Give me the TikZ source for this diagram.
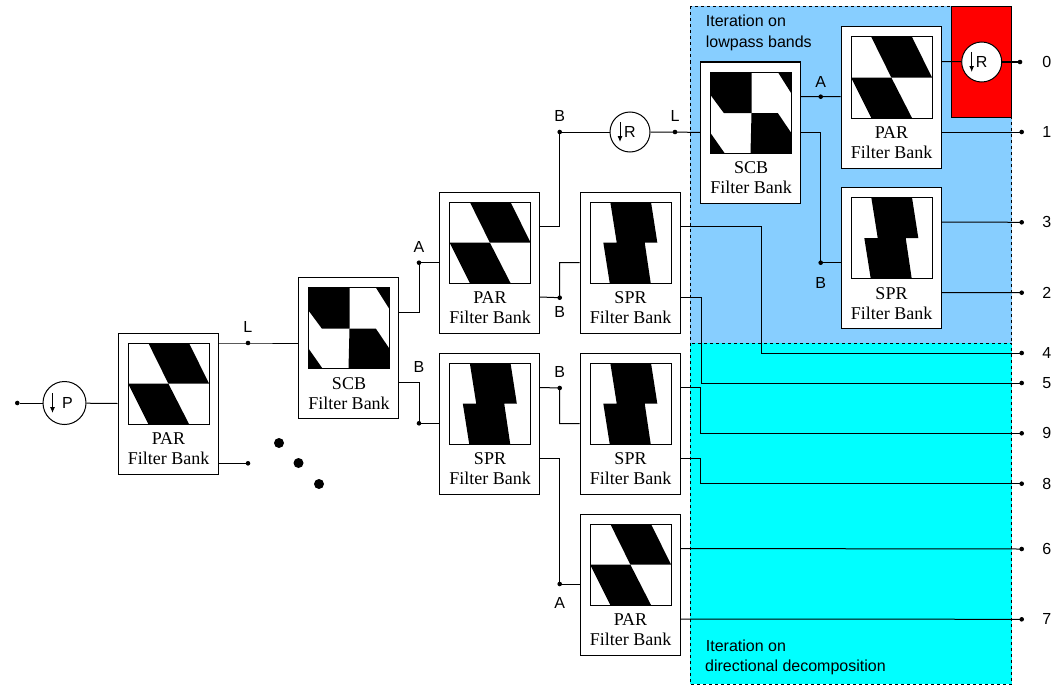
\documentclass[tikz,border=0pt]{standalone}
\usepackage{xcolor}
\usepackage{fontspec}
\setmainfont{Liberation Serif}
\setsansfont{Liberation Sans}
\usetikzlibrary{calc, arrows.meta}

\definecolor{lowblue}{RGB}{135,206,255}
\definecolor{dirblue}{RGB}{0,255,255}

\tikzset{
    bankbox/.style={draw, fill=white, line width=1pt, minimum width=100pt, minimum height=141pt, inner sep=0pt},
    banktext/.style={align=center, inner sep=0pt, font=\fontsize{18}{20}\selectfont},
    portdot/.style={circle, fill=black, minimum size=4.6pt, inner sep=0pt},
    bigdot/.style={circle, fill=black, minimum size=10pt, inner sep=0pt},
    portlabel/.style={inner sep=0pt, font=\sffamily\fontsize{16}{19}\selectfont},
    noteline/.style={anchor=base west, inner sep=0pt, font=\sffamily\fontsize{16}{19}\selectfont},
    downbox/.style={draw, fill=white, circle, line width=1pt, minimum size=40pt, inner sep=0pt, font=\sffamily\fontsize{16}{19}\selectfont},
    wire/.style={line width=1pt},
}

% passband pictures, 81 units wide
\newcommand{\parimage}{%
    \fill (20.3,0) -- (61,0) -- (81,40.5) -- (40.3,40.5) -- cycle;
    \fill (0,40.5) -- (40.3,40.5) -- (61,81) -- (20.3,81) -- cycle;
}
\newcommand{\sprimage}{%
    \fill (20.3,0) -- (61,0) -- (67.3,40.5) -- (54.7,40.5) -- (60.7,81) -- (19.7,81) -- (13.3,40.5) -- (26.7,40.5) -- cycle;
}
\newcommand{\scbimage}{%
    \fill (0,0) -- (41,0) -- (41,41) -- (13.3,41) -- (0,23) -- cycle;
    \fill (67.3,0) -- (81,0) -- (81,21.7) -- cycle;
    \fill (41,41) -- (67.3,41) -- (81,61.3) -- (81,81) -- (40,81) -- cycle;
    \fill (0,61) -- (14,81) -- (0,81) -- cycle;
}
% name, left, top, title, picture
\newcommand{\filterbank}[5]{%
    \node[bankbox] (#1) at (#2+50,#3+70.5) {};
    \begin{scope}[shift={(#2+10,#3+10)}]
        #5
        \draw[line width=1pt] (0,0) rectangle (81,81);
    \end{scope}
    \node[banktext] (#1text) at (#2+50.5,#3+116) {#4\\Filter Bank};
    \coordinate (#1hi) at ($(#1.north east)+(0,35)$);
    \coordinate (#1lo) at ($(#1.north east)+(0,105.5)$);
}

\begin{document}
\begin{tikzpicture}[x=1pt, y=-1pt]
    \useasboundingbox (0,0) rectangle (1051,685);

    % shaded regions
    \draw[dashed, line width=0.8pt, fill=lowblue] (690,6.5) rectangle (1011.5,343);
    \draw[dashed, line width=0.8pt, fill=dirblue] (690,343) rectangle (1011.5,684);
    \draw[line width=0.8pt, fill=red] (951.5,6.5) rectangle (1011.5,117);
    \node[noteline] (lowone) at (705.7,27) {Iteration on};
    \node[noteline] (lowtwo) at (705.7,47.7) {lowpass bands};
    \node[noteline] (dirone) at (705.7,651) {Iteration on};
    \node[noteline] (dirtwo) at (705,671.7) {directional decomposition};

    % filter banks
    \filterbank{parone}{118}{333}{PAR}{\parimage}
    \filterbank{scbone}{298.5}{277.5}{SCB}{\scbimage}
    \filterbank{partwo}{439.5}{192}{PAR}{\parimage}
    \filterbank{sprone}{580}{192}{SPR}{\sprimage}
    \filterbank{sprtwo}{439.5}{353}{SPR}{\sprimage}
    \filterbank{sprthree}{580}{353}{SPR}{\sprimage}
    \filterbank{parthree}{580}{514}{PAR}{\parimage}
    \filterbank{scbtop}{700.5}{62}{SCB}{\scbimage}
    \filterbank{partop}{841}{27}{PAR}{\parimage}
    \filterbank{sprtop}{841}{187.5}{SPR}{\sprimage}

    % downsampling circles
    \node[downbox, minimum size=43pt] (pdown) at (64.5,403) {\kern6pt P};
    \node[downbox] (rdown) at (630,132) {R};
    \node[downbox] (rtop) at (981.7,62) {R};

    % junction dots
    \node[portdot] (indot) at (17.3,403) {};
    \node[portdot] (ldot) at (248,343) {};
    \node[portdot] (pardot) at (248,463.3) {};
    \node[portdot] (adot) at (419,262.7) {};
    \node[portdot] (bdot) at (419,423.3) {};
    \node[portdot] (rbdot) at (559.7,132) {};
    \node[portdot] (rldot) at (675,132) {};
    \node[portdot] (sprbdot) at (559.7,297.7) {};
    \node[portdot] (lowbdot) at (559.7,388) {};
    \node[portdot] (lowadot) at (559.7,584) {};
    \node[portdot] (topadot) at (820.7,96.7) {};
    \node[portdot] (topbdot) at (820.7,262.7) {};
    \foreach \nm/\yy/\xx in {0/62/1020, 1/132/1021.7, 3/222.3/1021.7, 2/292.7/1021.7, 4/353/1021.7, 5/383/1021.7, 9/433.3/1021.7, 8/483.7/1021.7, 6/549/1021.7, 7/619.3/1021.7} {
        \node[portdot] (out\nm) at (\xx,\yy) {};
        \node[portlabel] (num\nm) at (1046.7,\yy) {\nm};
    }

    % big dots
    \node[bigdot] (moreone) at (279,443) {};
    \node[bigdot] (moretwo) at (298.5,463) {};
    \node[bigdot] (morethree) at (319,484) {};

    % connectors
    \draw[wire] (indot) -- (pdown);
    \draw[wire] (pdown) -- (parone.west);
    \draw[wire] (parone.east |- ldot) -- (ldot.center) -- (scbone.west |- ldot);
    \draw[wire] (parone.east |- pardot) -- (pardot.center);
    \draw[wire] (scbonehi) -| (adot.center) -- (partwo.west |- adot);
    \draw[wire] (scbonelo) -| (bdot.center) -- (sprtwo.west |- bdot);
    \draw[wire] (partwohi) -| (rbdot.center) -- (rdown);
    \draw[wire] (rdown) -- (rldot.center) -- (scbtop.west);
    \draw[wire] (partwolo) -- (sprbdot.center) |- (sprone.west);
    \draw[wire] (sprtwohi) -- (lowbdot.center) |- (sprthree.west);
    \draw[wire] (sprtwolo) -| (lowadot.center) -- (parthree.west |- lowadot);
    \draw[wire] (spronehi) -- ++(80.7,0) |- (out4.center);
    \draw[wire] (spronelo) -- ++(20.7,0) |- (out5.center);
    \draw[wire] (sprthreehi) -- ++(20,0) |- (out9.center);
    \draw[wire] (sprthreelo) -- ++(20,0) |- (out8.center);
    \draw[wire] (parthreehi) -- (out6.center);
    \draw[wire] (parthreelo) -- (out7.center);
    \draw[wire] (scbtophi) -- (topadot.center) -- (partop.west |- topadot);
    \draw[wire] (scbtop.east) -| (topbdot.center) -- (sprtop.west |- topbdot);
    \draw[wire] (partophi) -- (rtop);
    \draw[wire] (rtop) -- (out0.center);
    \draw[wire] (partoplo) -- (out1.center);
    \draw[wire] (sprtophi) -- (out3.center);
    \draw[wire] (sprtoplo) -- (out2.center);

    % arrows inside the circles
    \draw[wire, -{Latex[length=6pt,width=5pt]}] ($(pdown.center)+(-12,-10)$) -- ++(0,20);
    \draw[wire, -{Latex[length=6pt,width=5pt]}] ($(rdown.center)+(-10,-10)$) -- ++(0,20);
    \draw[wire, -{Latex[length=6pt,width=5pt]}] ($(rtop.center)+(-10,-10)$) -- ++(0,20);

    % port letters
    \node[portlabel] (llabel) at (247.7,327) {L};
    \node[portlabel] (alabel) at (419,247) {A};
    \node[portlabel] (blabel) at (419,367) {B};
    \node[portlabel] (rblabel) at (559.7,116) {B};
    \node[portlabel] (rllabel) at (675,116) {L};
    \node[portlabel] (sprblabel) at (559.7,312) {B};
    \node[portlabel] (lowblabel) at (559.7,372) {B};
    \node[portlabel] (lowalabel) at (559.7,603) {A};
    \node[portlabel] (topalabel) at (820.7,81.7) {A};
    \node[portlabel] (topblabel) at (820.7,282.7) {B};
\end{tikzpicture}
\end{document}
